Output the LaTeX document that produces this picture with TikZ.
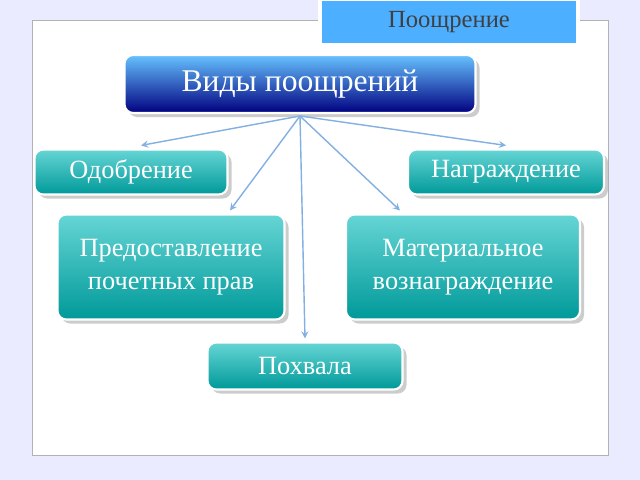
\documentclass[tikz,border=0pt]{standalone}
\usepackage{fontspec}
\setmainfont{Liberation Serif}
\usetikzlibrary{shadows,calc}
\tikzset{
  tealbox/.style={draw=white,line width=1.2pt,rounded corners=5pt,top color=cyan!45!teal!60,bottom color=teal!80!cyan,
    text=white,font=\fontsize{15}{19}\selectfont,align=center,drop shadow={opacity=0.4}},
}
\begin{document}
\begin{tikzpicture}[x=0.02cm,y=-0.02cm]
  \useasboundingbox (0,0) rectangle (640,480);
  \fill[blue!8] (0,0) rectangle (640,480);
  \fill[white,draw=gray!60] (32,20) rectangle (608,455);
  \node[draw=white,line width=2pt,fill=blue!45!cyan!70,minimum width=258*0.02cm,minimum height=45*0.02cm,
    font=\fontsize{14}{16}\selectfont,text=black!75] (head) at (449,22) {Поощрение};
  \node[draw=white,line width=1.2pt,rounded corners=5pt,top color=blue!40!cyan!60,bottom color=blue!50!black,
    text=white,minimum width=351*0.02cm,minimum height=58*0.02cm,font=\fontsize{18}{22}\selectfont,
    drop shadow={opacity=0.4}] (vidy) at (300,84) {Виды поощрений};
  \node[tealbox,minimum width=193*0.02cm,minimum height=45*0.02cm] (odob) at (131,172) {Одобрение};
  \node[tealbox,minimum width=196*0.02cm,minimum height=45*0.02cm] (nagr) at (506,172) {Награждение};
  \node[tealbox,minimum width=227*0.02cm,minimum height=105*0.02cm] (pred) at (171,267) {Предоставление\\почетных прав};
  \node[tealbox,minimum width=234*0.02cm,minimum height=105*0.02cm] (mat) at (463,267) {Материальное\\вознаграждение};
  \node[tealbox,minimum width=195*0.02cm,minimum height=47*0.02cm] (poh) at (305,366) {Похвала};
  \coordinate (hub) at (300,116);
  \foreach \t/\dx in {odob/10, nagr/0, pred/59, mat/-63, poh/0}
    \draw[cyan!60!blue!50,thick,-stealth] (hub) -- ($(\t.north)+(\dx,-3)$);
\end{tikzpicture}
\end{document}
